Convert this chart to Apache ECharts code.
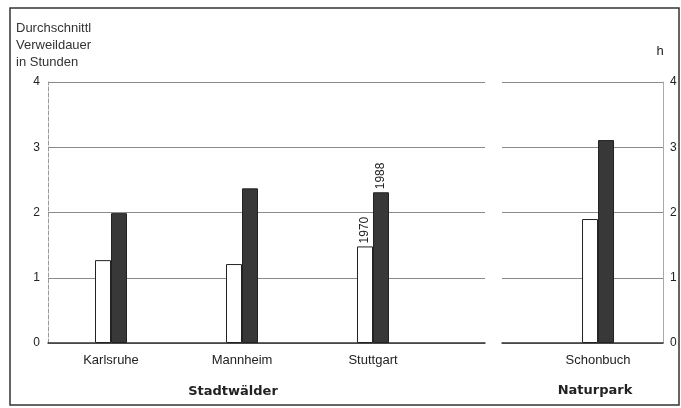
<!DOCTYPE html>
<html>
<head>
<meta charset="utf-8">
<script src="https://cdn.jsdelivr.net/npm/echarts@6/dist/echarts.min.js"></script>
<style>
  html, body { margin: 0; padding: 0; background: #fff; }
  #chart { width: 681px; height: 408px; }
</style>
</head>
<body>
<div id="chart"></div>
<script>
// Stadtwälder (Gruppe links) und Naturpark (rechts)
const cityForests = ['Karlsruhe', 'Mannheim', 'Stuttgart']
const city1970 = [1.27, 1.21, 1.48]
const city1988 = [1.99, 2.37, 2.31]
const parkNames = ['Schonbuch']
const park1970 = [1.9]
const park1988 = [3.11]
const yTicks = [0, 1, 2, 3, 4]
const years = ['1970', '1988']
// Jahreszahlen nur bei Stuttgart beschriften
const labelledIndex = 2

const font = 'Liberation Sans'

function toData(values, yearLabel) {
  return values.map((v, i) => {
    const item = { value: [i, v] }
    if (yearLabel && i === labelledIndex) {
      item.label = {
        show: true, formatter: yearLabel, position: 'top', rotate: 90,
        align: 'left', verticalAlign: 'middle', distance: 3,
        color: '#222', fontSize: 12, fontFamily: font
      }
    }
    return item
  })
}

const splitLine = { show: true, lineStyle: { color: '#8a8a8a', width: 1 } }

let myChart = echarts.init(document.getElementById('chart'))
let option = {
  backgroundColor: '#fff',
  animation: false,
  title: {
    text: 'Durchschnittl\nVerweildauer\nin Stunden',
    left: 11, top: 15,
    textStyle: { fontSize: 13, fontWeight: 'normal', color: '#333', fontFamily: font, lineHeight: 17 }
  },
  grid: [
    { left: 48, right: 196, top: 82, bottom: 65 },
    { left: 502, right: 18, top: 82, bottom: 65 }
  ],
  xAxis: [
    {
      type: 'value', gridIndex: 0, min: -0.481, max: 2.855,
      splitLine: { show: false },
      axisLine: { show: true, onZero: false, lineStyle: { color: '#333', width: 1.5 } },
      axisTick: { show: false },
      axisLabel: {
        customValues: cityForests.map((c, i) => i),
        formatter: v => cityForests[Math.round(v)],
        margin: 11, color: '#222', fontSize: 13, fontFamily: font
      }
    },
    {
      type: 'value', gridIndex: 1, min: -0.733, max: 0.496,
      splitLine: { show: false },
      axisLine: { show: true, onZero: false, lineStyle: { color: '#333', width: 1.5 } },
      axisTick: { show: false },
      axisLabel: {
        customValues: parkNames.map((c, i) => i),
        formatter: v => parkNames[Math.round(v)],
        margin: 11, color: '#222', fontSize: 13, fontFamily: font
      }
    }
  ],
  yAxis: [
    {
      type: 'value', gridIndex: 0, min: yTicks[0], max: yTicks[yTicks.length - 1], interval: 1,
      axisLine: { show: true, onZero: false, lineStyle: { color: '#999', type: 'dashed', width: 1 } },
      axisTick: { show: false },
      axisLabel: { margin: 8, color: '#222', fontSize: 12, fontFamily: font },
      splitLine: splitLine
    },
    {
      type: 'value', gridIndex: 1, position: 'right',
      min: yTicks[0], max: yTicks[yTicks.length - 1], interval: 1,
      name: 'h', nameGap: 24, nameLocation: 'end',
      nameTextStyle: { color: '#222', fontSize: 13, fontFamily: font, align: 'center', padding: [0, 6, 0, 0] },
      axisLine: { show: true, onZero: false, lineStyle: { color: '#aaa', width: 1 } },
      axisTick: { show: false },
      axisLabel: { margin: 7, color: '#222', fontSize: 12, fontFamily: font },
      splitLine: splitLine
    }
  ],
  series: [
    {
      name: years[0], type: 'bar', xAxisIndex: 0, yAxisIndex: 0,
      barWidth: 16, barGap: '0%',
      itemStyle: { color: '#fff', borderColor: '#222', borderWidth: 1 },
      data: toData(city1970, years[0])
    },
    {
      name: years[1], type: 'bar', xAxisIndex: 0, yAxisIndex: 0,
      barWidth: 16, barGap: '0%',
      itemStyle: { color: '#383838', borderColor: '#222', borderWidth: 1 },
      data: toData(city1988, years[1])
    },
    {
      name: years[0], type: 'bar', xAxisIndex: 1, yAxisIndex: 1,
      barWidth: 16, barGap: '0%',
      itemStyle: { color: '#fff', borderColor: '#222', borderWidth: 1 },
      data: toData(park1970)
    },
    {
      name: years[1], type: 'bar', xAxisIndex: 1, yAxisIndex: 1,
      barWidth: 16, barGap: '0%',
      itemStyle: { color: '#383838', borderColor: '#222', borderWidth: 1 },
      data: toData(park1988)
    }
  ],
  graphic: [
    // Rahmen
    {
      type: 'rect', shape: { x: 10, y: 8, width: 669, height: 397 },
      style: { fill: 'none', stroke: '#333', lineWidth: 1.5 }, silent: true
    },
    {
      type: 'text', x: 233, y: 392,
      style: { text: 'Stadtwälder', fill: '#222', font: 'bold 13px "DejaVu Sans"', align: 'center', verticalAlign: 'middle' }
    },
    {
      type: 'text', x: 595, y: 391,
      style: { text: 'Naturpark', fill: '#222', font: 'bold 13px "DejaVu Sans"', align: 'center', verticalAlign: 'middle' }
    }
  ]
}
myChart.setOption(option)
window.addEventListener('resize', function () {
  myChart.resize()
})
</script>
</body>
</html>
